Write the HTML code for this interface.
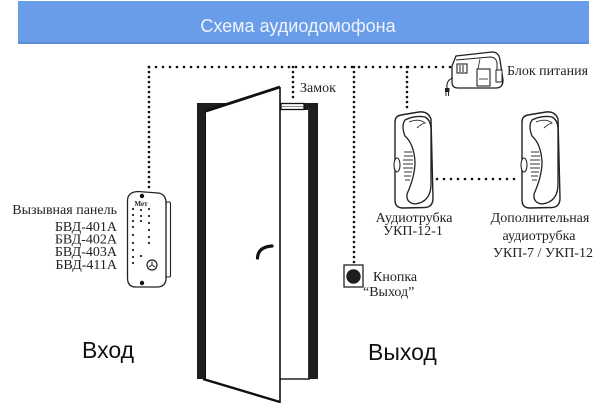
<!DOCTYPE html>
<html><head><meta charset="utf-8"><style>
html,body{margin:0;padding:0;background:#fff;}
svg{display:block;}
.s{font-family:"Liberation Serif",serif;font-size:14px;fill:#222;}
.b{font-family:"Liberation Sans",sans-serif;}
</style></head><body>
<svg width="600" height="408" viewBox="0 0 600 408" xmlns="http://www.w3.org/2000/svg">
<rect width="600" height="408" fill="#fff"/>
<!-- banner -->
<rect x="18" y="1" width="571" height="43" fill="#6a9de9"/>
<rect x="18" y="42" width="571" height="2" fill="#5c8ed8"/>
<text x="298" y="32" text-anchor="middle" class="b" font-size="18" fill="#eef3fd">Схема аудиодомофона</text>

<!-- dotted lines -->
<g stroke="#111" stroke-width="2.6" stroke-linecap="round" fill="none">
<line x1="149" y1="67" x2="452" y2="67" stroke-dasharray="0 7"/>
<line x1="149" y1="67" x2="149" y2="188" stroke-dasharray="0 5"/>
<line x1="293" y1="67" x2="293" y2="101" stroke-dasharray="0 5"/>
<line x1="354" y1="67" x2="354" y2="263" stroke-dasharray="0 5"/>
<line x1="407" y1="67" x2="407" y2="111" stroke-dasharray="0 5"/>
<line x1="437" y1="179" x2="517" y2="179" stroke-dasharray="0 7"/>
</g>

<!-- door -->
<polygon points="197,103 231,103 206,111 206,379 197,379" fill="#1e1e1e"/>
<rect x="309" y="103" width="9" height="276" fill="#1e1e1e"/>
<rect x="303" y="103" width="7" height="7" fill="#1e1e1e"/>
<line x1="308.5" y1="108" x2="308.5" y2="379" stroke="#333" stroke-width="1"/>
<line x1="280" y1="379" x2="310" y2="379" stroke="#222" stroke-width="1.5"/>
<polygon points="206,111 280,87 280,402 206,379" fill="#fff"/>
<line x1="206" y1="111" x2="280" y2="87" stroke="#111" stroke-width="2.8"/>
<line x1="280" y1="87" x2="280" y2="403" stroke="#111" stroke-width="1.6"/>
<line x1="203" y1="379" x2="280" y2="402" stroke="#111" stroke-width="2.4"/>
<line x1="205.5" y1="110" x2="205.5" y2="379" stroke="#111" stroke-width="1"/>
<!-- lock -->
<rect x="281" y="103.5" width="23" height="6" fill="#fff" stroke="#111" stroke-width="1.3"/>
<line x1="282" y1="106.5" x2="303" y2="106.5" stroke="#666" stroke-width="0.8"/>
<!-- handle -->
<path d="M257.5,258 Q258,247 272,246" stroke="#111" stroke-width="3.2" fill="none" stroke-linecap="round"/>

<!-- call panel -->
<rect x="166" y="202" width="4.5" height="75" rx="1.5" fill="#fff" stroke="#222" stroke-width="1.1"/>
<path d="M127.5,200 Q128,192 138,191.5 L158,193 Q166,194 166,203 L166,278 Q166,287 157,287 L136,287 Q127.5,287 127.5,278 Z" fill="#fff" stroke="#222" stroke-width="1.3"/>
<circle cx="142" cy="196" r="2.2" fill="#111"/>
<circle cx="142" cy="283" r="2.2" fill="#111"/>
<text x="141" y="206" text-anchor="middle" font-family="Liberation Serif,serif" font-size="7" font-weight="bold" fill="#222">Мет</text>
<g fill="#222">
<circle cx="133" cy="209" r="1.1"/><circle cx="133" cy="215" r="1.1"/><circle cx="133" cy="221" r="1.1"/><circle cx="133" cy="227" r="1.1"/><circle cx="133" cy="235" r="1.1"/><circle cx="133" cy="243" r="1.1"/><circle cx="133" cy="250" r="1.1"/><circle cx="133" cy="257" r="1.1"/><circle cx="133" cy="263" r="1.1"/>
<circle cx="141" cy="210" r="1.1"/><circle cx="141" cy="216" r="1.1"/><circle cx="141" cy="221" r="1.1"/><circle cx="141" cy="256" r="1.1"/>
<circle cx="149" cy="209" r="1.1"/><circle cx="149" cy="216" r="1.1"/><circle cx="149" cy="223" r="1.1"/><circle cx="149" cy="230" r="1.1"/><circle cx="149" cy="237" r="1.1"/><circle cx="149" cy="243" r="1.1"/>
</g>
<circle cx="152" cy="265" r="5" fill="#fff" stroke="#222" stroke-width="1.2"/>
<path d="M152,261.5 L152,265 M149,267 L152,265 L155,267" stroke="#222" stroke-width="1" fill="none"/>

<!-- exit button -->
<rect x="344" y="265" width="19" height="22" fill="#fff" stroke="#222" stroke-width="1.3"/>
<circle cx="353.5" cy="276.5" r="7.2" fill="#1e1e1e"/>

<!-- handset tubes -->
<defs>
<g id="tube">
<path d="M2,10 Q2,4 8,3 L26,0 Q35,-1 38,7 L40,86 Q40,95 32,95.5 L10,96 Q2,96 2,88 Z" fill="#fff" stroke="#222" stroke-width="1.4"/>
<path d="M12,8 Q22,3 32,5 Q38,8 38,18 L38,72 Q38,90 22,92 Q13,91 14,82 Q22,64 22,50 Q21,32 12,24 Q8,14 12,8 Z" fill="#fff" stroke="#222" stroke-width="1.3"/>
<path d="M16,10 Q26,6 32,11 Q28,12 24,16" fill="none" stroke="#222" stroke-width="0.9"/>
<g stroke="#333" stroke-width="1">
<line x1="11" y1="40" x2="19" y2="40"/><line x1="11" y1="44" x2="20" y2="44"/><line x1="10" y1="48" x2="20" y2="48"/><line x1="10" y1="52" x2="20" y2="52"/><line x1="10" y1="56" x2="20" y2="56"/><line x1="11" y1="60" x2="19" y2="60"/><line x1="11" y1="64" x2="18" y2="64"/><line x1="12" y1="68" x2="17" y2="68"/>
</g>
<ellipse cx="4" cy="53" rx="3" ry="7" fill="#fff" stroke="#222" stroke-width="1.1"/>
</g>
</defs>
<use href="#tube" x="393" y="112"/>
<use href="#tube" x="520" y="112"/>

<!-- power supply -->
<path d="M452,66 L456,56 L492,52 Q499,52 500,60 L503,80 Q503,88 496,88 L458,88 Q452,88 452,82 Z" fill="#fff" stroke="#222" stroke-width="1.3"/>
<path d="M456,60 L490,57 Q496,57 497,63 L497,72" fill="none" stroke="#222" stroke-width="1"/>
<rect x="457" y="64" width="10" height="9" fill="#fff" stroke="#222" stroke-width="1.1"/>
<line x1="460" y1="65" x2="460" y2="72" stroke="#222"/><line x1="463" y1="65" x2="463" y2="72" stroke="#222"/>
<rect x="477" y="69" width="13" height="17" fill="#fff" stroke="#222" stroke-width="1.1"/>
<line x1="479" y1="79" x2="488" y2="79" stroke="#222" stroke-width="0.8"/>
<line x1="480" y1="59" x2="478" y2="69" stroke="#222" stroke-width="0.8"/>
<rect x="496" y="70" width="6" height="12" fill="#fff" stroke="#222" stroke-width="1"/>
<path d="M453,78 Q446,80 447,88" fill="none" stroke="#222" stroke-width="1.1"/>
<rect x="445" y="88" width="4.5" height="4" fill="#222"/>
<line x1="446" y1="92" x2="446" y2="96" stroke="#222" stroke-width="1"/><line x1="448.5" y1="92" x2="448.5" y2="96" stroke="#222" stroke-width="1"/>

<!-- labels -->
<text x="300" y="92" class="s">Замок</text>
<text x="507" y="75" class="s">Блок питания</text>
<g class="s" text-anchor="end">
<text x="117" y="214">Вызывная панель</text>
<text x="117" y="231">БВД-401А</text>
<text x="117" y="243.5">БВД-402А</text>
<text x="117" y="256">БВД-403А</text>
<text x="117" y="269">БВД-411А</text>
</g>
<g class="s" text-anchor="middle">
<text x="414" y="222">Аудиотрубка</text>
<text x="413" y="235">УКП-12-1</text>
<text x="540" y="222">Дополнительная</text>
<text x="539" y="240">аудиотрубка</text>
<text x="543" y="257">УКП-7 / УКП-12</text>
</g>
<text x="373" y="281" class="s">Кнопка</text>
<text x="363" y="296" class="s">“Выход”</text>

<text x="82" y="358" class="b" font-size="23" fill="#111">Вход</text>
<text x="368" y="360" class="b" font-size="23" fill="#111">Выход</text>
</svg>
</body></html>
